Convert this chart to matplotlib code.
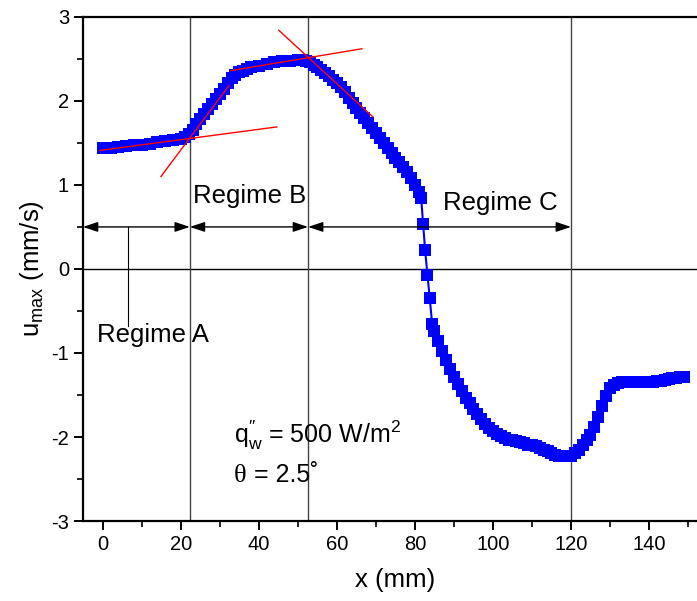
import numpy as np
from matplotlib.figure import Figure
from matplotlib.backends.backend_agg import FigureCanvasAgg as FigureCanvas
import matplotlib as mpl

mpl.rcParams["font.family"] = ["Liberation Sans", "DejaVu Sans"]
mpl.rcParams["mathtext.fontset"] = "custom"
mpl.rcParams["mathtext.rm"] = "Liberation Sans"
mpl.rcParams["mathtext.it"] = "Liberation Sans:italic"
mpl.rcParams["axes.unicode_minus"] = False

# data
x_mm = [0, 2, 4, 6, 8, 10, 12, 14, 16, 18, 20, 21, 22, 23, 24, 25, 26, 27, 28, 29,
        30, 31, 32, 33, 34, 35, 36, 37, 38, 40, 42, 44, 46, 48, 50, 51, 52, 53, 54, 55,
        56, 57, 58, 59, 60, 61, 62, 63, 64, 65, 66, 67, 68, 69, 70, 71, 72, 73, 74, 75,
        76, 77, 78, 79, 80, 81, 81.6, 82.1, 82.6, 83.2, 83.8, 84.4, 85, 86, 87, 88, 89, 90,
        91, 92, 93, 94, 95, 96, 97, 98, 99, 100, 101, 102, 103, 104, 105, 106, 107, 108,
        109, 110, 111, 112, 113, 114, 115, 116, 117, 118, 119, 120, 121, 122, 123, 124,
        125, 126, 127, 128, 129, 130, 131, 132, 133, 134, 135, 136, 137, 138, 139, 140,
        141, 142, 143, 144, 145, 146, 147, 148, 149]
u_max = [1.44, 1.44, 1.45, 1.46, 1.47, 1.48, 1.49, 1.51, 1.52, 1.53, 1.55, 1.57, 1.60,
         1.65, 1.72, 1.78, 1.84, 1.90, 1.96, 2.02, 2.08, 2.14, 2.21, 2.27, 2.31, 2.34,
         2.36, 2.38, 2.40, 2.42, 2.44, 2.46, 2.47, 2.48, 2.49, 2.49, 2.48, 2.46, 2.43,
         2.40, 2.37, 2.33, 2.29, 2.25, 2.21, 2.16, 2.10, 2.04, 1.98, 1.92, 1.86, 1.80,
         1.74, 1.68, 1.62, 1.56, 1.50, 1.44, 1.38, 1.32, 1.27, 1.21, 1.15, 1.08, 1.00,
         0.92, 0.84, 0.54, 0.23, -0.07, -0.35, -0.65, -0.74, -0.86, -0.98, -1.08, -1.19,
         -1.29, -1.37, -1.45, -1.53, -1.60, -1.67, -1.73, -1.78, -1.84, -1.89, -1.93,
         -1.96, -1.99, -2.01, -2.03, -2.04, -2.05, -2.06, -2.07, -2.09, -2.10, -2.11,
         -2.13, -2.15, -2.17, -2.19, -2.21, -2.22, -2.23, -2.23, -2.23, -2.19, -2.15,
         -2.10, -2.04, -1.98, -1.88, -1.76, -1.63, -1.51, -1.42, -1.38, -1.36, -1.35,
         -1.35, -1.35, -1.35, -1.35, -1.35, -1.34, -1.34, -1.34, -1.33, -1.33, -1.32,
         -1.31, -1.30, -1.30, -1.29, -1.28]

# regime boundaries (mm)
bounds = [22.3, 52.6, 120]

# tangent lines (red): start x, start y, end x, end y
tangents = [
    (-0.8, 1.41, 44.6, 1.69),
    (14.9, 1.10, 32.3, 2.18),
    (32.8, 2.36, 66.4, 2.62),
    (45.1, 2.84, 69.2, 1.81),
]

# create figure and axis
fig = Figure(figsize=(6.97, 6.01), dpi=100)
canvas = FigureCanvas(fig)
ax = fig.add_axes([0.119, 0.133, 0.881, 0.839])

xmin, xmax = -5.1, 152.3
ax.set_xlim(xmin, xmax)
ax.set_ylim(-3, 3)

# reference lines
ax.axhline(0, color="black", lw=1.0, zorder=1)
for b in bounds:
    ax.axvline(b, color="#444444", lw=1.0, zorder=1)

# data
ax.plot(x_mm, u_max, color="#0000ff", lw=1.5, marker="s", markersize=8.2,
        markeredgewidth=0, zorder=3)

# tangents
for x0, y0, x1, y1 in tangents:
    ax.plot([x0, x1], [y0, y1], color="red", lw=1.0, zorder=4)

# regime arrows
arrow_y = 0.5
edges = [xmin, bounds[0], bounds[1], bounds[2]]
for a, b in zip(edges[:-1], edges[1:]):
    ax.annotate("", xy=(b, arrow_y), xytext=(a, arrow_y),
                arrowprops=dict(arrowstyle="<|-|>,head_length=0.9,head_width=0.3",
                                color="black", lw=1.0, shrinkA=0, shrinkB=0))

# regime A leader line
ax.plot([6.4, 6.4], [arrow_y, -0.68], color="black", lw=0.8)

ax.text(-1.5, -0.79, "Regime A", fontsize=18.5, va="center", ha="left")
ax.text(23.1, 0.87, "Regime B", fontsize=18.5, va="center", ha="left")
ax.text(87.2, 0.79, "Regime C", fontsize=18.5, va="center", ha="left")

# parameters
ax.text(33.6, -1.98, r"q$_\mathrm{w}^{\prime\prime}$ = 500 W/m$^\mathrm{2}$",
        fontsize=18, va="center", ha="left")
th = ax.text(33.6, -2.46, "\u03b8", fontsize=19, va="center", ha="left",
             family="Liberation Serif")
ax.annotate(" = 2.5\u02da", xy=(1, 0), xycoords=th, fontsize=18,
            va="bottom", ha="left")

# axes styling
ax.spines["right"].set_visible(False)
for s in ["left", "bottom", "top"]:
    ax.spines[s].set_linewidth(1.6)
ax.set_xticks(np.arange(0, 141, 20))
ax.set_xticks(np.arange(10, 151, 20), minor=True)
ax.set_yticks(np.arange(-3, 4, 1))
ax.set_yticks(np.arange(-2.5, 3, 1), minor=True)
ax.tick_params(which="major", direction="out", length=6.5, width=1.4, labelsize=14.5)
ax.tick_params(which="minor", direction="out", length=4, width=1.2)

ax.set_xlabel("x (mm)", fontsize=18.5, labelpad=10)
ax.xaxis.set_label_coords(0.5 + 5 / 614, -0.093)
ax.set_ylabel(r"u$_\mathrm{max}$ (mm/s)", fontsize=18.5, labelpad=4)

# render/save output
fig.savefig("out.png", dpi=100)
